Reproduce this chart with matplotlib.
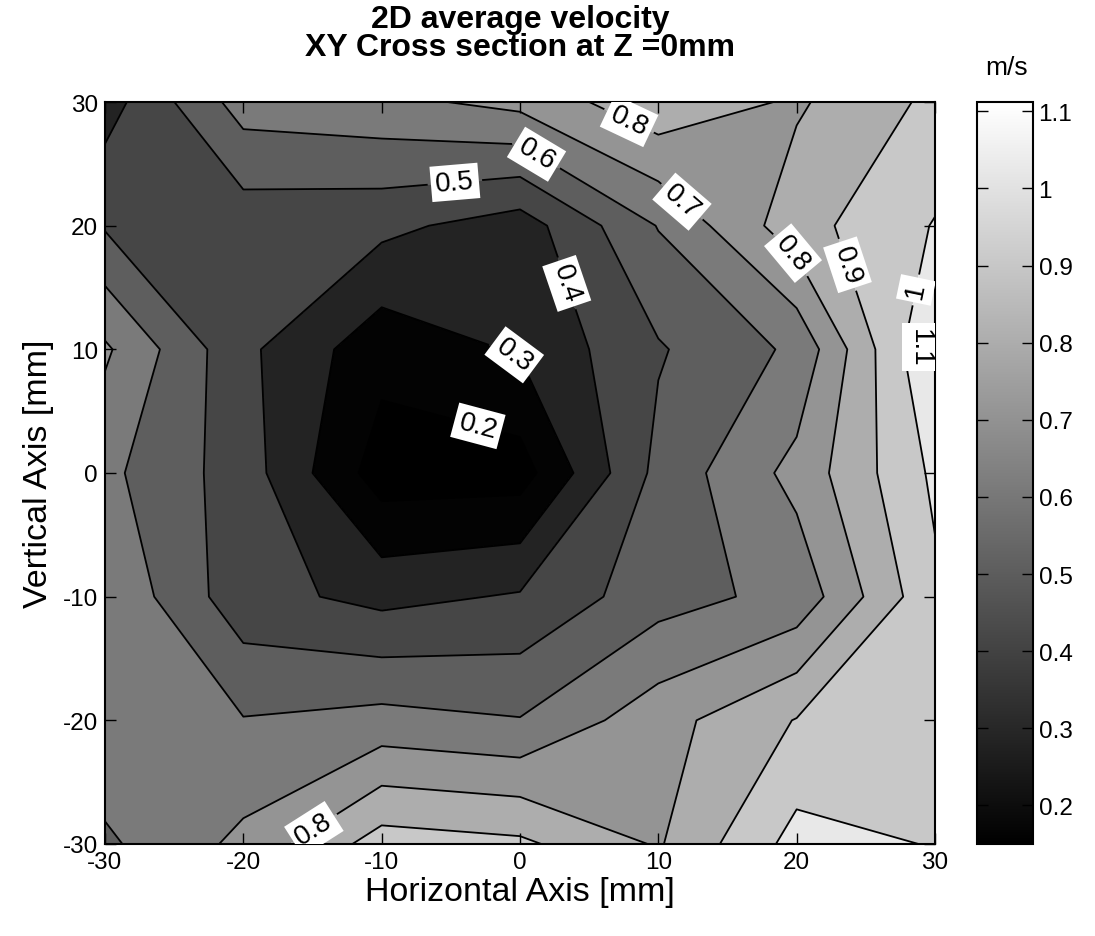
import numpy as np
import matplotlib
matplotlib.use('Agg')
from matplotlib import pyplot as plt
from matplotlib import colors as mcolors
from matplotlib.cm import ScalarMappable

plt.rcParams['font.family'] = ['Liberation Sans', 'DejaVu Sans']
plt.rcParams['axes.unicode_minus'] = False

# grid positions [mm]
x_mm = [-30, -20, -10, 0, 10, 20, 30]
y_mm = [-30, -20, -10, 0, 10, 20, 30]

# average velocity [m/s], one row per y (from y=-30 up to y=30), columns along x
v_ym30 = [0.582, 0.725, 0.947, 0.920, 0.790, 1.037, 0.995]
v_ym20 = [0.680, 0.605, 0.635, 0.605, 0.760, 0.905, 0.970]
v_ym10 = [0.690, 0.437, 0.370, 0.410, 0.559, 0.632, 0.980]
v_y0 = [0.625, 0.450, 0.150, 0.155, 0.530, 0.733, 1.020]
v_y10 = [0.716, 0.424, 0.235, 0.310, 0.490, 0.620, 1.112]
v_y20 = [0.490, 0.440, 0.426, 0.350, 0.605, 0.860, 1.006]
v_y30 = [0.354, 0.645, 0.673, 0.730, 0.870, 0.786, 0.923]

contour_levels = [0.2, 0.3, 0.4, 0.5, 0.6, 0.7, 0.8, 0.9, 1.0, 1.1]
cbar_ticks = [0.2, 0.3, 0.4, 0.5, 0.6, 0.7, 0.8, 0.9, 1.0, 1.1]
axis_ticks = [-30, -20, -10, 0, 10, 20, 30]

# grey of each filled band, from lowest (<0.2) to highest (>1.1)
band_grey = ['#000000', '#030303', '#232323', '#464646', '#5e5e5e', '#7a7a7a',
             '#949494', '#adadad', '#c8c8c8', '#e8e8e8', '#f8f8f8']

# where the contour labels sit (data coords)
label_pos = [(-4.7, 23.4), (1.1, 25.6), (7.6, 27.8), (11.6, 21.8), (3.3, 15.3),
             (-0.4, 9.6), (-3.0, 4.0), (19.5, 17.5), (23.3, 16.7), (28.2, 14.9),
             (29.0, 10.4), (-15.0, -28.6)]

X, Y = np.meshgrid(x_mm, y_mm)
Z = np.array([v_ym30, v_ym20, v_ym10, v_y0, v_y10, v_y20, v_y30])

vmin, vmax = Z.min(), Z.max()
norm = mcolors.Normalize(vmin=vmin, vmax=vmax)
cmap = plt.get_cmap('gray')
fill_levels = [vmin] + contour_levels + [vmax]

fig = plt.figure(figsize=(10.95, 9.37), dpi=100)
ax = fig.add_axes([105 / 1095, 92 / 937, 830 / 1095, 742 / 937])
cax = fig.add_axes([977 / 1095, 92 / 937, 56 / 1095, 742 / 937])

ax.contourf(X, Y, Z, levels=fill_levels, colors=band_grey)
cs = ax.contour(X, Y, Z, levels=contour_levels, colors='k', linewidths=1.3,
                linestyles='solid')
labels = ax.clabel(cs, fmt='%g', fontsize=20, inline=True, inline_spacing=8,
                   manual=label_pos)
for t in labels:
    t.set_bbox(dict(facecolor='white', edgecolor='none', pad=3.5))
    t.set_clip_on(True)
    # the 1.1 label hugs the right border, nudge it inwards a bit
    if t.get_text() == '1.1':
        px, py = t.get_position()
        t.set_position((px - 0.9, py))

ax.set_xlim(-30, 30)
ax.set_ylim(-30, 30)
ax.set_xticks(axis_ticks)
ax.set_yticks(axis_ticks)
ax.tick_params(direction='in', top=True, right=True, length=8, width=1,
               labelsize=17.5, pad=5)
for sp in ax.spines.values():
    sp.set_linewidth(1.5)

ax.set_xlabel('Horizontal Axis [mm]', fontsize=24.5, labelpad=2)
ax.set_ylabel('Vertical Axis [mm]', fontsize=24.5, labelpad=6)
fig.text(520 / 1095, 1 - 34 / 937, '2D average velocity\nXY Cross section at Z =0mm',
         ha='center', va='center', fontsize=23, fontweight='bold', linespacing=0.92)

sm = ScalarMappable(norm=norm, cmap=cmap)
cb = fig.colorbar(sm, cax=cax, ticks=cbar_ticks, format='%g')
cb.outline.set_linewidth(1.5)
cax.tick_params(direction='in', left=True, right=True, length=8, width=1,
                labelsize=17.5, pad=4)
fig.text(1007 / 1095, 1 - 68 / 937, 'm/s', ha='center', va='center', fontsize=19)

fig.savefig('out.png', dpi=100)
